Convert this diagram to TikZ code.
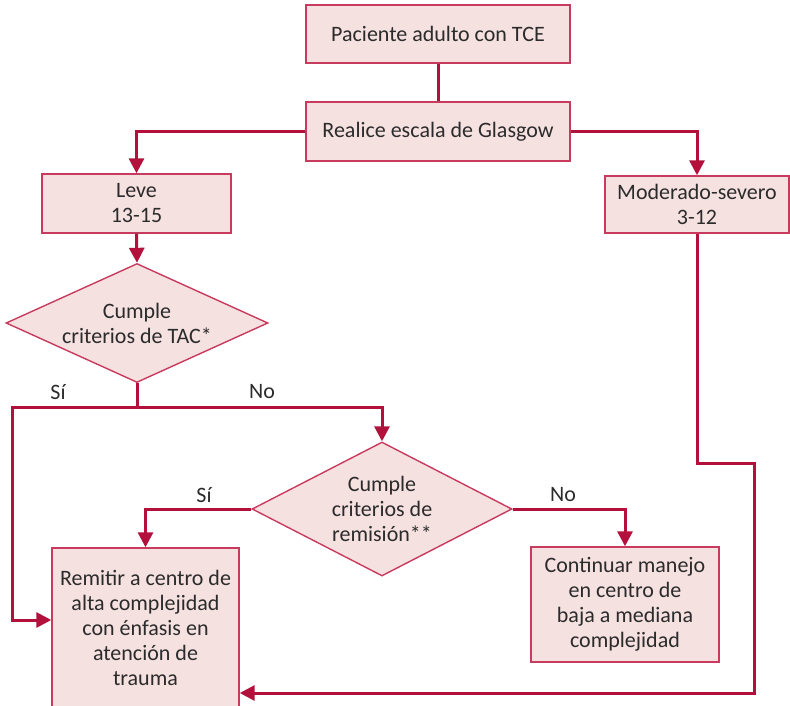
\documentclass[tikz,border=0pt]{standalone}
\usepackage{fontspec}
\setmainfont{Carlito}
\usetikzlibrary{shapes.geometric,arrows.meta}
\definecolor{conn}{HTML}{B3103C}
\definecolor{boxfill}{HTML}{F5E1E0}
\definecolor{boxdraw}{HTML}{C83A5E}
\definecolor{txt}{HTML}{2B2B2B}
\tikzset{
  tfont/.style={font=\fontsize{22pt}{25pt}\selectfont},
  base/.style={draw=boxdraw, fill=boxfill, line width=1.4pt, text=txt, align=center, tfont},
  box/.style={base, rectangle, inner sep=0pt},
  dia/.style={base, diamond, inner sep=0pt},
  conline/.style={draw=conn, line width=3pt},
  arr/.style={conline, -{Triangle[length=15pt,width=15pt]}},
  lab/.style={text=txt, tfont, inner sep=0pt, align=center}
}
\begin{document}
\begin{tikzpicture}[x=1pt,y=-1pt]
\useasboundingbox (0,0) rectangle (790,705);
\node[box, minimum width=264pt, minimum height=58pt] (pac) at (438,34) {Paciente adulto con TCE};
\node[box, minimum width=264pt, minimum height=59pt] (glas) at (438,131.5) {Realice escala de Glasgow};
\node[box, minimum width=189pt, minimum height=59pt] (leve) at (136.5,203.5) {Leve\\13-15};
\node[box, minimum width=184pt, minimum height=57pt] (mod) at (697,204.5) {Moderado-severo\\3-12};
\node[dia, minimum width=262pt, minimum height=119pt,
  label={[lab]center:Cumple\\criterios de TAC*}] (d1) at (137,323) {};
\node[dia, minimum width=260pt, minimum height=134pt,
  label={[lab]center:Cumple\\criterios de\\remisión**}] (d2) at (382,509) {};
\node[box, minimum width=187pt, minimum height=160pt] (rem) at (145.5,628) {Remitir a centro de\\alta complejidad\\con énfasis en\\atención de\\trauma};
\node[box, minimum width=188pt, minimum height=115pt] (cont) at (625,604.5) {Continuar manejo\\en centro de\\baja a mediana\\complejidad};

\coordinate (j1) at (137,407);
\coordinate (cl) at (12,407);
\coordinate (r1) at (754,463);

\draw[conline] (pac.south) -- (glas.north);
\draw[arr] (glas.west) -| (leve.north);
\draw[arr] (glas.east) -| (mod.north);
\draw[arr] (leve.south) -- (d1.north);
\draw[conline] (d1.south) -- (j1);
\draw[arr] (j1) -- (cl) |- ([yshift=8pt]rem.west);
\draw[arr] (j1) -| (d2.north);
\draw[arr] (d2.west) -| (rem.north);
\draw[arr] (d2.east) -| (cont.north);
\draw[arr] (mod.south) |- (r1) |- ([yshift=-65pt]rem.east);

\node[lab] (s1) at (58,392) {Sí};
\node[lab] (n1) at (262,392) {No};
\node[lab] (s2) at (204,495) {Sí};
\node[lab] (n2) at (563,495) {No};
\end{tikzpicture}
\end{document}
